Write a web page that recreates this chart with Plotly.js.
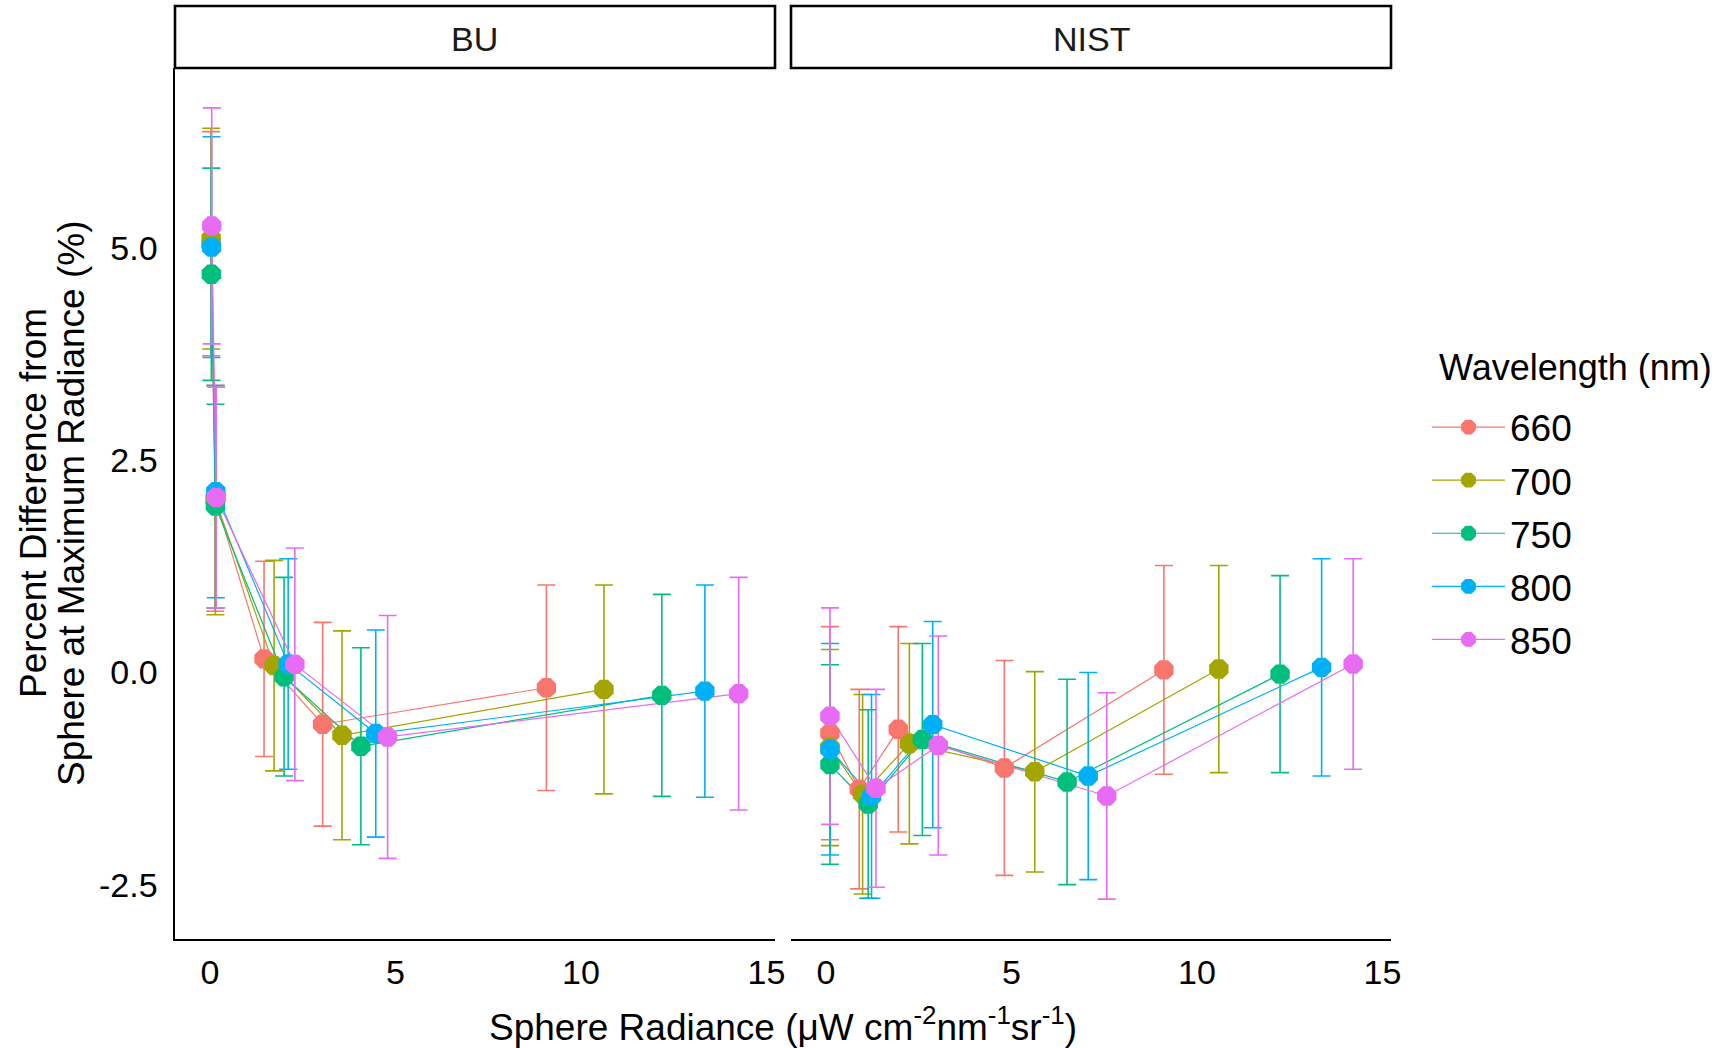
<!DOCTYPE html>
<html><head><meta charset="utf-8">
<script src="https://cdn.plot.ly/plotly-3.0.1.min.js"></script>
<style>html,body{margin:0;padding:0;background:#fff}</style>
</head><body><div id="chart" style="width:1716px;height:1048px"></div>
<script>
// ---------- data ----------
const wavelengths = ['660', '700', '750', '800', '850'];
const panelNames = ['BU', 'NIST'];
const legendTitle = 'Wavelength (nm)';
const xTicks = [0, 5, 10, 15];
const yTicks = [-2.5, 0, 2.5, 5];
const yTickText = ['-2.5', '0.0', '2.5', '5.0'];

// BU panel (one row per wavelength)
const buX = [
  [0.03, 0.14, 1.46, 3.04, 9.07],
  [0.035, 0.15, 1.73, 3.56, 10.62],
  [0.04, 0.15, 2.00, 4.07, 12.18],
  [0.045, 0.16, 2.11, 4.47, 13.34],
  [0.05, 0.17, 2.29, 4.79, 14.25]
];
const buY = [
  [5.05, 2.05, 0.16, -0.61, -0.18],
  [5.11, 2.03, 0.08, -0.74, -0.20],
  [4.69, 1.96, -0.05, -0.87, -0.27],
  [5.01, 2.13, 0.10, -0.72, -0.22],
  [5.26, 2.06, 0.095, -0.76, -0.25]
];
const buErr = [
  [1.32, 1.33, 1.15, 1.20, 1.21],
  [1.30, 1.35, 1.24, 1.23, 1.23],
  [1.25, 1.20, 1.17, 1.16, 1.19],
  [1.30, 1.25, 1.24, 1.22, 1.25],
  [1.39, 1.30, 1.37, 1.43, 1.37]
];

// NIST panel
const nistX = [
  [0.11, 0.90, 1.95, 4.81, 9.11],
  [0.11, 0.99, 2.25, 5.63, 10.59],
  [0.11, 1.14, 2.60, 6.50, 12.24],
  [0.11, 1.23, 2.88, 7.07, 13.36],
  [0.11, 1.35, 3.03, 7.57, 14.21]
];
const nistY = [
  [-0.715, -1.375, -0.67, -1.125, 0.03],
  [-0.885, -1.435, -0.84, -1.17, 0.04],
  [-1.085, -1.55, -0.79, -1.29, -0.02],
  [-0.905, -1.46, -0.615, -1.22, 0.06],
  [-0.515, -1.365, -0.86, -1.455, 0.10]
];
const nistErr = [
  [1.255, 1.175, 1.21, 1.265, 1.23],
  [1.155, 1.175, 1.18, 1.18, 1.22],
  [1.175, 1.11, 1.13, 1.21, 1.16],
  [1.245, 1.20, 1.215, 1.22, 1.28],
  [1.275, 1.165, 1.29, 1.215, 1.24]
];

// ---------- style ----------
const colors = ['#F8766D', '#A3A500', '#00BF7D', '#00B0F6', '#E76BF3'];
const FONT = 'Liberation Sans, Arial, sans-serif';
const W = 1716, H = 1048;
const fx = v => v / W;
const fy = v => 1 - v / H;
const MS = 21;

const panels = [
  {x: buX, y: buY, e: buErr, xa: 'x'},
  {x: nistX, y: nistY, e: nistErr, xa: 'x2'}
];

const traces = [];
panels.forEach(p => {
  wavelengths.forEach((w, i) => {
    traces.push({
      type: 'scatter', mode: 'lines', x: p.x[i], y: p.y[i],
      xaxis: p.xa, yaxis: 'y', legendgroup: w, showlegend: false,
      line: {color: colors[i], width: 1.2},
      error_y: {type: 'data', array: p.e[i], visible: true, color: colors[i], thickness: 1.6, width: 9},
      hoverinfo: 'skip'
    });
  });
});
panels.forEach(p => {
  wavelengths.forEach((w, i) => {
    traces.push({
      type: 'scatter', mode: 'markers', x: p.x[i], y: p.y[i],
      xaxis: p.xa, yaxis: 'y', legendgroup: w, showlegend: false, name: w,
      marker: {color: colors[i], size: MS, symbol: 'octagon'}
    });
  });
});
wavelengths.forEach((w, i) => {
  traces.push({
    type: 'scatter', mode: 'lines+markers', x: [null], y: [null],
    xaxis: 'x', yaxis: 'y', legendgroup: w, name: w, showlegend: true,
    line: {color: colors[i], width: 1.2},
    marker: {color: colors[i], size: MS, symbol: 'octagon'}
  });
});

const xCommon = {
  range: [-0.94, 15.23], showgrid: false, zeroline: false,
  showline: true, linecolor: '#000', linewidth: 1.6,
  ticks: '', tickvals: xTicks, ticklabelstandoff: 3,
  tickfont: {family: FONT, size: 34, color: '#000'},
  anchor: 'y', fixedrange: true
};

const layout = {
  width: W, height: H, autosize: false,
  margin: {l: 0, r: 0, t: 0, b: 0},
  paper_bgcolor: '#fff', plot_bgcolor: '#fff',
  font: {family: FONT, color: '#000'},
  xaxis: Object.assign({}, xCommon, {domain: [fx(175), fx(775)]}),
  xaxis2: Object.assign({}, xCommon, {domain: [fx(791), fx(1391)]}),
  yaxis: {
    domain: [fy(939), fy(68)], range: [-3.14, 7.12], anchor: 'x',
    showgrid: false, zeroline: false, showline: true, linecolor: '#000', linewidth: 1.6,
    ticks: '', tickvals: yTicks, ticktext: yTickText, ticklabelstandoff: 9,
    tickfont: {family: FONT, size: 34, color: '#000'}, fixedrange: true
  },
  showlegend: true,
  legend: {
    x: fx(1427), y: fy(396.5), xanchor: 'left', yanchor: 'top',
    bgcolor: 'rgba(0,0,0,0)', borderwidth: 0,
    font: {family: FONT, size: 37, color: '#000'},
    tracegroupgap: 2, itemwidth: 73
  },
  shapes: [
    {type: 'rect', xref: 'paper', yref: 'paper', x0: fx(175), x1: fx(775), y0: fy(68), y1: fy(6),
     line: {color: '#000', width: 2.6}, fillcolor: 'rgba(0,0,0,0)', layer: 'above'},
    {type: 'rect', xref: 'paper', yref: 'paper', x0: fx(791), x1: fx(1391), y0: fy(68), y1: fy(6),
     line: {color: '#000', width: 2.6}, fillcolor: 'rgba(0,0,0,0)', layer: 'above'}
  ],
  annotations: [
    {text: panelNames[0], xref: 'paper', yref: 'paper', x: fx(475), y: fy(39), xanchor: 'center', yanchor: 'middle',
     showarrow: false, font: {family: FONT, size: 34, color: '#1a1a1a'}},
    {text: panelNames[1], xref: 'paper', yref: 'paper', x: fx(1091), y: fy(39), xanchor: 'center', yanchor: 'middle',
     showarrow: false, font: {family: FONT, size: 34, color: '#1a1a1a'}},
    {text: legendTitle, xref: 'paper', yref: 'paper', x: fx(1437), y: fy(367), xanchor: 'left', yanchor: 'middle',
     showarrow: false, font: {family: FONT, size: 36, color: '#000'}},
    {text: 'Sphere Radiance (μW cm<sup>-2</sup>nm<sup>-1</sup>sr<sup>-1</sup>)', xref: 'paper', yref: 'paper',
     x: fx(783), y: fy(1024), xanchor: 'center', yanchor: 'middle', showarrow: false,
     font: {family: FONT, size: 37, color: '#000'}},
    {text: 'Percent Difference from', xref: 'paper', yref: 'paper', x: fx(33), y: fy(503), textangle: -90,
     xanchor: 'center', yanchor: 'middle', showarrow: false, font: {family: FONT, size: 37, color: '#000'}},
    {text: 'Sphere at Maximum Radiance (%)', xref: 'paper', yref: 'paper', x: fx(71), y: fy(503), textangle: -90,
     xanchor: 'center', yanchor: 'middle', showarrow: false, font: {family: FONT, size: 37, color: '#000'}}
  ]
};

Plotly.newPlot('chart', traces, layout, {displayModeBar: false, staticPlot: true});
</script>
</body></html>
